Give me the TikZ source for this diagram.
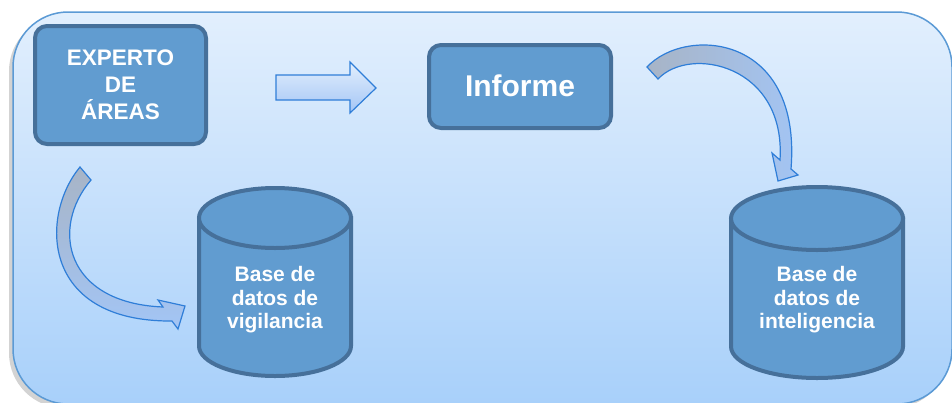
\documentclass[tikz,border=0pt]{standalone}
\usepackage{fontspec}
\setmainfont{Liberation Sans}
\usepackage{tikz}
\usetikzlibrary{matrix,shapes,arrows,positioning,chains,shadows}

\definecolor{fondoarriba}{HTML}{E2EFFD}
\definecolor{fondoabajo}{HTML}{A8D0FA}
\definecolor{fondoborde}{HTML}{5B9AD5}
\definecolor{cajafondo}{HTML}{619CD0}
\definecolor{cajaborde}{HTML}{46709A}
\definecolor{flechaborde}{HTML}{2F7ED8}
\definecolor{flechaclara}{HTML}{E3EFFD}
\definecolor{flechaazul}{HTML}{A3C5F5}
\definecolor{flechagris}{HTML}{A7B4C6}

\begin{document}
\begin{tikzpicture}[x=1pt,y=-1pt,
  caja/.style={draw=cajaborde,fill=cajafondo,line width=4pt,rounded corners=12pt,text=white,align=center},
  cilindro/.style={draw=cajaborde,fill=cajafondo,line width=4pt},
  flecha/.style={draw=flechaborde,line width=1.2pt,line join=miter},
  texto/.style={text=white,font=\bfseries\fontsize{21}{23.5}\selectfont,align=center}]

\useasboundingbox (0,0) rectangle (952,402);
\draw[fondoborde,line width=1.5pt,top color=fondoarriba,bottom color=fondoabajo,rounded corners=55pt,
  drop shadow={shadow xshift=-4pt,shadow yshift=-4pt,opacity=0.35}] (13,12) rectangle (952,404);

\node[caja,minimum width=171pt,minimum height=118pt,font=\bfseries\fontsize{22.5}{27}\selectfont] (experto) at (120.5,85) {EXPERTO\\DE\\ÁREAS};
\node[caja,minimum width=182pt,minimum height=83pt,font=\bfseries\fontsize{30}{36}\selectfont] (informe) at (520,86.5) {\raisebox{2pt}{Informe}};

\draw[flecha,top color=flechaclara,bottom color=flechaazul] (276,75) -- (350,75) -- (350,62) -- (376,88) -- (350,113) -- (350,100) -- (276,100) -- cycle;
\draw[flecha,left color=flechagris,right color=flechaazul] (647,67) .. controls (685,26) and (802,33) .. (791,169) -- (798,175) -- (778,181) -- (772,153) -- (780,160) .. controls (786,65) and (690,45) .. (658,79) -- cycle;
\draw[flecha,top color=flechagris,bottom color=flechaazul] (80,167) .. controls (40,215) and (40,322) .. (172,321) -- (178,329) -- (185,306) -- (158,300) -- (163,307) .. controls (65,303) and (50,228) .. (91,180) -- cycle;

\draw[cilindro] (199,218) -- (199,346) arc[start angle=180,end angle=0,x radius=76,y radius=30] -- (351,218) -- cycle;
\draw[cilindro] (275,218) ellipse[x radius=76,y radius=30];
\node[texto] (bdvig) at (275,300) {Base de\\datos de\\vigilancia};

\draw[cilindro] (731,218.5) -- (731,346.5) arc[start angle=180,end angle=0,x radius=86,y radius=31.5] -- (903,218.5) -- cycle;
\draw[cilindro] (817,218.5) ellipse[x radius=86,y radius=31.5];
\node[texto] (bdint) at (817,300) {Base de\\datos de\\inteligencia};

\end{tikzpicture}
\end{document}
